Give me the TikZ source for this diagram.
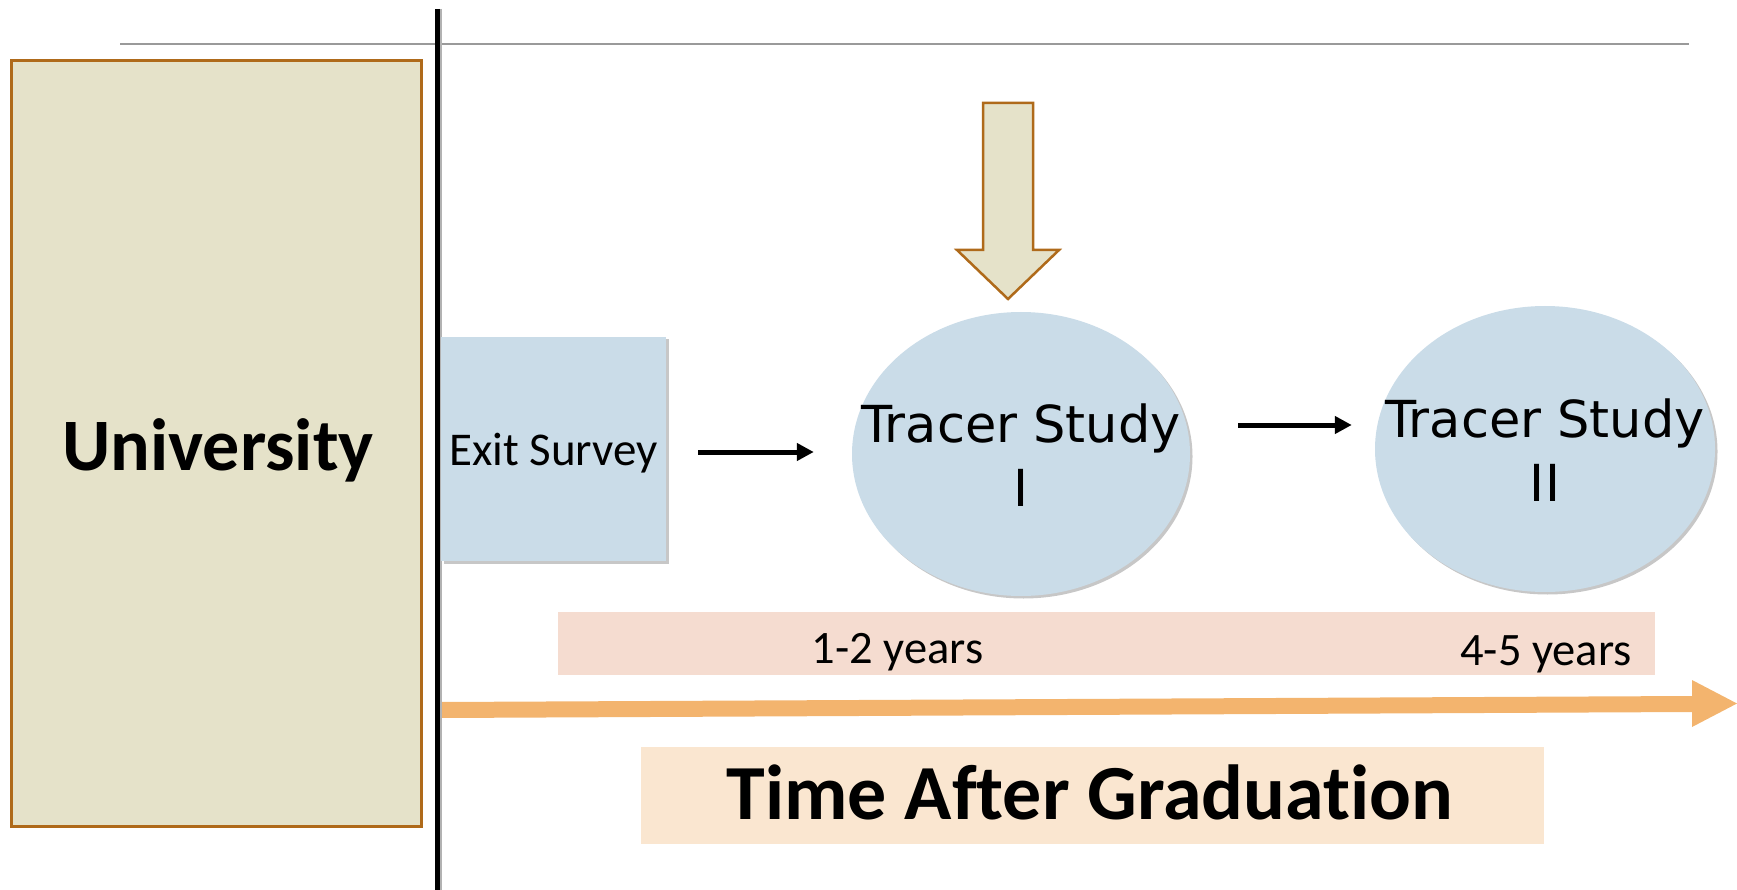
\documentclass[tikz,border=0pt]{standalone}
\usepackage{fontspec}
\setmainfont{Carlito}[Ligatures=NoCommon]
\newfontfamily\lucida{DejaVu Sans}
\usetikzlibrary{shapes.geometric,arrows.meta,shadows,calc}
\definecolor{beige}{HTML}{E5E2C9}
\definecolor{brownb}{HTML}{AF6A1A}
\definecolor{lblue}{HTML}{CADCE8}
\definecolor{pinkband}{HTML}{F5DCD0}
\definecolor{orangeax}{HTML}{F3B46E}
\definecolor{peach}{HTML}{FAE6D0}
\definecolor{rulegray}{HTML}{9A9A9A}
\tikzset{
  softshadow/.style={drop shadow={shadow xshift=2.5pt,shadow yshift=-2.5pt,opacity=0.22,fill=black}},
  unibox/.style={rectangle, draw=brownb, line width=3pt, fill=beige, inner sep=0pt},
  bluebox/.style={rectangle, fill=lblue, inner sep=0pt, softshadow},
  oval/.style={ellipse, fill=lblue, inner sep=0pt, softshadow},
  bandbox/.style={rectangle, inner sep=0pt},
  flow/.style={line width=5pt, -{Triangle[length=17pt,width=17pt]}},
  txt/.style={inner sep=0pt, anchor=base, text=black},
}
\begin{document}
\begin{tikzpicture}[x=1pt,y=-1pt]
\useasboundingbox (0,0) rectangle (1737,890);
% top rule
\coordinate (ruleL) at (120,44);
\coordinate (ruleR) at (1689,44);
\draw[rulegray, line width=1.5pt] (ruleL) -- (ruleR);

% University box
\node[unibox, minimum width=410pt, minimum height=765pt] (uni) at (216,443.5) {};
\node[txt, font=\bfseries\fontsize{74}{80}\selectfont] (unitxt) at (218,470) {University};

% time axis (orange arrow)
\fill[orangeax] (441,702) -- (1692,696) -- (1692,680) -- (1737,703.5) -- (1692,727) -- (1692,712) -- (441,718) -- cycle;

% vertical black line with shadow
\coordinate (vtop) at (437.5,9);
\coordinate (vbot) at (437.5,890);
\draw[black!30, line width=3pt] ([xshift=3pt]vtop) -- ([xshift=3pt]vbot);
\draw[black, line width=4.5pt] (vtop) -- (vbot);

% Exit survey
\node[bluebox, minimum width=225pt, minimum height=224pt] (exit) at (553.5,449) {};
\node[txt, font=\fontsize{47}{56}\selectfont] (exittxt) at (553.5,465) {Exit Survey};

% Tracer studies
\node[oval, minimum width=338pt, minimum height=284pt] (t1) at (1021,454) {};
\node[inner sep=0pt, align=center, font=\lucida\fontsize{51}{64}\selectfont] (t1txt) at (1021,455.5) {Tracer Study\\I};
\node[oval, minimum width=340pt, minimum height=286pt] (t2) at (1545,449) {};
\node[inner sep=0pt, align=center, font=\lucida\fontsize{51}{64}\selectfont] (t2txt) at (1545,450) {Tracer Study\\II};

% flow arrows
\draw[flow] ($(exit.east)+(32,3)$) -- ($(t1.west)+(-38,-2)$);
\draw[flow] ($(t1.east)+(48,-29)$) -- ($(t2.west)+(-23,-24)$);

% down arrow
\draw[brownb, line width=2.5pt, fill=beige, line join=miter]
  (983,103) -- (1033,103) -- (1033,250) -- (1059,250) -- (1008,299) -- (957,250) -- (983,250) -- cycle;

% years band
\node[bandbox, fill=pinkband, minimum width=1097pt, minimum height=63pt] (years) at (1106.5,643.5) {};
\node[txt, font=\fontsize{46.5}{56}\selectfont] (yr1) at (897.5,663) {1-2 years};
\node[txt, font=\fontsize{46.5}{56}\selectfont] (yr2) at (1546,665) {4-5 years};

% time after graduation
\node[bandbox, fill=peach, minimum width=903pt, minimum height=97pt] (time) at (1092.5,795.5) {};
\node[txt, font=\bfseries\fontsize{78}{90}\selectfont] (timetxt) at (1090,819) {Time After Graduation};
\end{tikzpicture}
\end{document}
